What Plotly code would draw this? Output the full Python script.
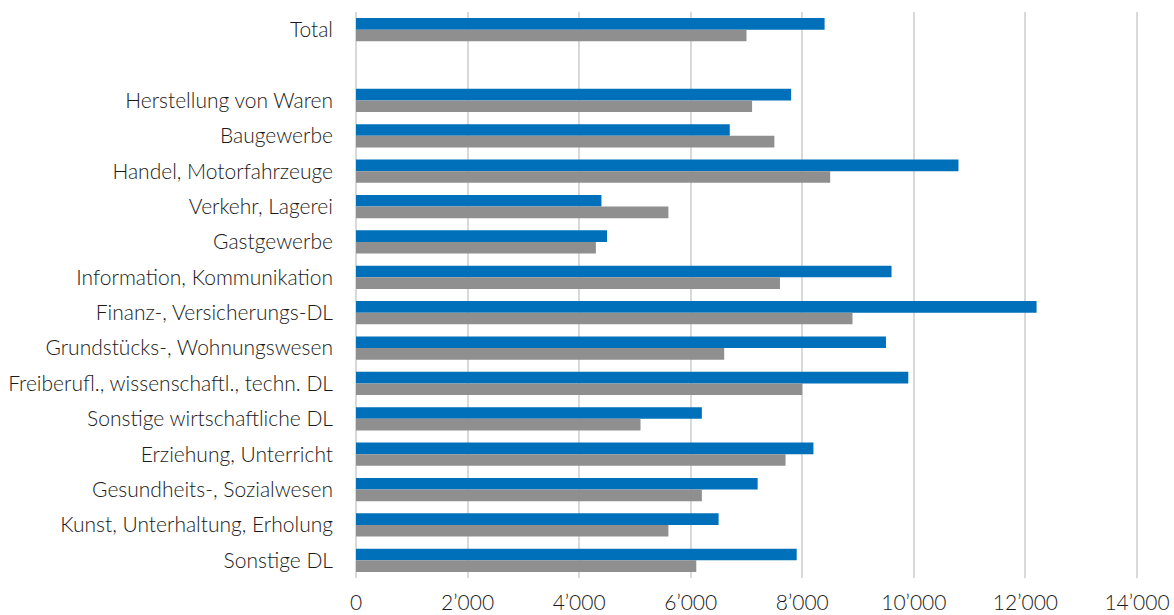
import plotly.graph_objects as go

categories = [
    "Total", " ",
    "Herstellung von Waren", "Baugewerbe", "Handel, Motorfahrzeuge",
    "Verkehr, Lagerei", "Gastgewerbe", "Information, Kommunikation",
    "Finanz-, Versicherungs-DL", "Grundstücks-, Wohnungswesen",
    "Freiberufl., wissenschaftl., techn. DL", "Sonstige wirtschaftliche DL",
    "Erziehung, Unterricht", "Gesundheits-, Sozialwesen",
    "Kunst, Unterhaltung, Erholung", "Sonstige DL",
]
blue_values = [8400, None, 7800, 6700, 10800, 4400, 4500, 9600, 12200, 9500,
               9900, 6200, 8200, 7200, 6500, 7900]
gray_values = [7000, None, 7100, 7500, 8500, 5600, 4300, 7600, 8900, 6600,
               8000, 5100, 7700, 6200, 5600, 6100]
tick_values = [0, 2000, 4000, 6000, 8000, 10000, 12000, 14000]
tick_labels = ["0", "2\u2019000", "4\u2019000", "6\u2019000", "8\u2019000",
               "10\u2019000", "12\u2019000", "14\u2019000"]

fig = go.Figure()
fig.add_trace(go.Bar(y=categories, x=blue_values, orientation="h",
                     marker=dict(color="#0070BA", line=dict(width=0)),
                     name="A"))
fig.add_trace(go.Bar(y=categories, x=gray_values, orientation="h",
                     marker=dict(color="#8F8F8F", line=dict(width=0)),
                     name="B"))

fig.update_layout(
    width=1174, height=615,
    margin=dict(l=354, r=35, t=12, b=37),
    barmode="group", bargap=0.34, bargroupgap=0,
    plot_bgcolor="white", paper_bgcolor="white",
    showlegend=False,
    font=dict(family="Lato", size=21, color="#1A1A1A", weight=300),
)
fig.update_xaxes(range=[-36, 14036], tickvals=tick_values, ticktext=tick_labels,
                 showgrid=True, gridcolor="#D9D9D9", gridwidth=2,
                 zeroline=False, showline=False, ticks="",
                 ticklabelstandoff=10, automargin=False)
fig.update_yaxes(type="category", categoryorder="array", categoryarray=categories,
                 autorange="reversed", showgrid=False, showline=False,
                 ticks="", ticklabelstandoff=20, automargin=False)

fig.write_html("out.html")
